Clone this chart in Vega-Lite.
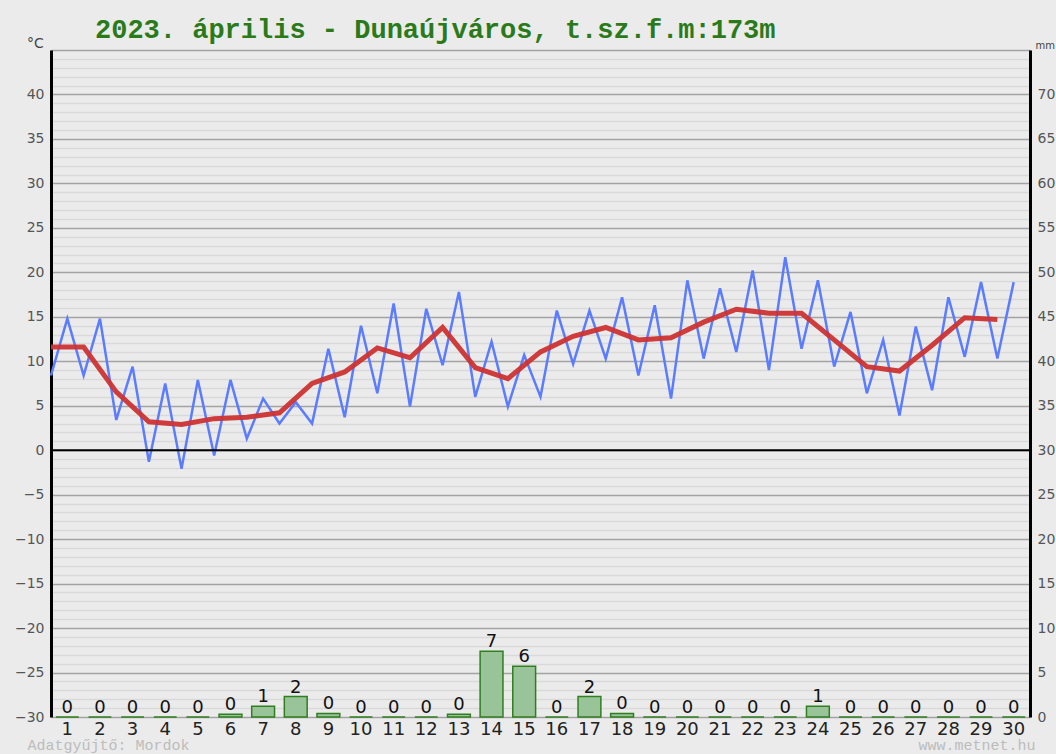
{
  "$schema": "https://vega.github.io/schema/vega-lite/v6.json",
  "width": 979,
  "height": 667,
  "autosize": {"type": "none"},
  "padding": {"left": 51, "top": 50, "right": 26, "bottom": 37},
  "background": "#ebebeb",
  "config": {"view": {"stroke": null}},
  "title": {
    "text": "2023. április - Dunaújváros, t.sz.f.m:173m",
    "anchor": "start", "frame": "group", "dx": 44, "dy": 41, "offset": 12, "baseline": "alphabetic",
    "font": "Liberation Mono", "fontSize": 27, "fontWeight": "bold", "color": "#2a7a1a"
  },
  "datasets": {
    "precip": [
      {"day": 1, "mm": 0}, {"day": 2, "mm": 0}, {"day": 3, "mm": 0}, {"day": 4, "mm": 0}, {"day": 5, "mm": 0},
      {"day": 6, "mm": 0.3}, {"day": 7, "mm": 1.2}, {"day": 8, "mm": 2.3}, {"day": 9, "mm": 0.4}, {"day": 10, "mm": 0},
      {"day": 11, "mm": 0}, {"day": 12, "mm": 0}, {"day": 13, "mm": 0.3}, {"day": 14, "mm": 7.4}, {"day": 15, "mm": 5.7},
      {"day": 16, "mm": 0}, {"day": 17, "mm": 2.3}, {"day": 18, "mm": 0.4}, {"day": 19, "mm": 0}, {"day": 20, "mm": 0},
      {"day": 21, "mm": 0}, {"day": 22, "mm": 0}, {"day": 23, "mm": 0}, {"day": 24, "mm": 1.2}, {"day": 25, "mm": 0},
      {"day": 26, "mm": 0}, {"day": 27, "mm": 0}, {"day": 28, "mm": 0}, {"day": 29, "mm": 0}, {"day": 30, "mm": 0}
    ],
    "minmax": [
      {"t": 1.0, "temp": 8.4}, {"t": 1.5, "temp": 14.8}, {"t": 2.0, "temp": 8.4}, {"t": 2.5, "temp": 14.8},
      {"t": 3.0, "temp": 3.4}, {"t": 3.5, "temp": 9.4}, {"t": 4.0, "temp": -1.3}, {"t": 4.5, "temp": 7.5},
      {"t": 5.0, "temp": -2.1}, {"t": 5.5, "temp": 7.9}, {"t": 6.0, "temp": -0.6}, {"t": 6.5, "temp": 7.9},
      {"t": 7.0, "temp": 1.3}, {"t": 7.5, "temp": 5.8}, {"t": 8.0, "temp": 3.0}, {"t": 8.5, "temp": 5.4},
      {"t": 9.0, "temp": 3.0}, {"t": 9.5, "temp": 11.4}, {"t": 10.0, "temp": 3.7}, {"t": 10.5, "temp": 14.0},
      {"t": 11.0, "temp": 6.4}, {"t": 11.5, "temp": 16.5}, {"t": 12.0, "temp": 4.9}, {"t": 12.5, "temp": 15.9},
      {"t": 13.0, "temp": 9.55}, {"t": 13.5, "temp": 17.8}, {"t": 14.0, "temp": 6.0}, {"t": 14.5, "temp": 12.2},
      {"t": 15.0, "temp": 4.9}, {"t": 15.5, "temp": 10.7}, {"t": 16.0, "temp": 6.0}, {"t": 16.5, "temp": 15.7},
      {"t": 17.0, "temp": 9.7}, {"t": 17.5, "temp": 15.7}, {"t": 18.0, "temp": 10.3}, {"t": 18.5, "temp": 17.2},
      {"t": 19.0, "temp": 8.4}, {"t": 19.5, "temp": 16.3}, {"t": 20.0, "temp": 5.8}, {"t": 20.5, "temp": 19.1},
      {"t": 21.0, "temp": 10.3}, {"t": 21.5, "temp": 18.2}, {"t": 22.0, "temp": 11.05}, {"t": 22.5, "temp": 20.2},
      {"t": 23.0, "temp": 9.0}, {"t": 23.5, "temp": 21.7}, {"t": 24.0, "temp": 11.4}, {"t": 24.5, "temp": 19.1},
      {"t": 25.0, "temp": 9.4}, {"t": 25.5, "temp": 15.55}, {"t": 26.0, "temp": 6.4}, {"t": 26.5, "temp": 12.4},
      {"t": 27.0, "temp": 3.9}, {"t": 27.5, "temp": 13.9}, {"t": 28.0, "temp": 6.75}, {"t": 28.5, "temp": 17.2},
      {"t": 29.0, "temp": 10.5}, {"t": 29.5, "temp": 18.9}, {"t": 30.0, "temp": 10.3}, {"t": 30.5, "temp": 18.9}
    ],
    "mean": [
      {"t": 1, "temp": 11.6}, {"t": 2, "temp": 11.6}, {"t": 3, "temp": 6.55}, {"t": 4, "temp": 3.2}, {"t": 5, "temp": 2.9},
      {"t": 6, "temp": 3.55}, {"t": 7, "temp": 3.7}, {"t": 8, "temp": 4.2}, {"t": 9, "temp": 7.5}, {"t": 10, "temp": 8.8},
      {"t": 11, "temp": 11.5}, {"t": 12, "temp": 10.4}, {"t": 13, "temp": 13.8}, {"t": 14, "temp": 9.3}, {"t": 15, "temp": 8.05},
      {"t": 16, "temp": 11.05}, {"t": 17, "temp": 12.8}, {"t": 18, "temp": 13.8}, {"t": 19, "temp": 12.4}, {"t": 20, "temp": 12.65},
      {"t": 21, "temp": 14.4}, {"t": 22, "temp": 15.85}, {"t": 23, "temp": 15.4}, {"t": 24, "temp": 15.4}, {"t": 25, "temp": 12.4},
      {"t": 26, "temp": 9.4}, {"t": 27, "temp": 8.9}, {"t": 28, "temp": 11.8}, {"t": 29, "temp": 14.9}, {"t": 30, "temp": 14.7}
    ]
  },
  "layer": [
    {
      "data": {"name": "precip"},
      "encoding": {
        "x": {
          "field": "day", "type": "ordinal",
          "scale": {"paddingInner": 0.3, "paddingOuter": 0.15},
          "axis": {
            "orient": "bottom", "labelAngle": 0, "labelFont": "DejaVu Sans", "labelFontSize": 18,
            "labelColor": "#222", "labelPadding": 3, "ticks": false, "domain": false, "grid": false,
            "title": "Adatgyűjtő: Mordok", "titleX": -24, "titleY": 27, "titleAlign": "left",
            "titleBaseline": "middle", "titleFont": "Liberation Mono", "titleFontSize": 15,
            "titleFontWeight": "normal", "titleColor": "#bcbcbc"
          }
        },
        "y": {
          "field": "mm", "type": "quantitative",
          "scale": {"domain": [0, 75], "nice": false, "zero": true},
          "axis": {
            "orient": "right", "values": [0, 5, 10, 15, 20, 25, 30, 35, 40, 45, 50, 55, 60, 65, 70],
            "tickCount": 100, "format": "d",
            "grid": false, "ticks": false, "domainColor": "#000", "domainWidth": 3,
            "labelFont": "DejaVu Sans", "labelFontSize": 14, "labelColor": "#555", "labelPadding": 7,
            "title": "mm", "titleAngle": 0, "titleX": 5, "titleY": -5, "titleAlign": "left",
            "titleBaseline": "middle", "titleFont": "DejaVu Sans", "titleFontSize": 10,
            "titleFontWeight": "normal", "titleColor": "#444"
          }
        }
      },
      "layer": [
        {"mark": {"type": "bar", "fill": "#99c499", "stroke": "#2f7f1f", "strokeWidth": 1.5}},
        {
          "mark": {"type": "text", "dy": -4, "baseline": "alphabetic", "font": "DejaVu Sans", "fontSize": 18, "color": "#111"},
          "encoding": {"text": {"field": "mm", "type": "quantitative", "format": ".0f"}}
        }
      ]
    },
    {
      "layer": [
        {
          "data": {"name": "minmax"},
          "mark": {"type": "line", "color": "#5c7cff", "strokeWidth": 2.5},
          "encoding": {
            "x": {
              "field": "t", "type": "quantitative",
              "scale": {"domain": [1, 31], "nice": false, "zero": false},
              "axis": {
                "orient": "bottom", "labels": false, "ticks": false, "domain": false, "grid": false,
                "title": "www.metnet.hu", "titleX": 984, "titleY": 27, "titleAlign": "right",
                "titleBaseline": "middle", "titleFont": "Liberation Mono", "titleFontSize": 15,
                "titleFontWeight": "normal", "titleColor": "#bcbcbc"
              }
            },
            "y": {
              "field": "temp", "type": "quantitative",
              "scale": {"domain": [-30, 45], "nice": false, "zero": false},
              "axis": {
                "orient": "left",
                "values": [-30, -29, -28, -27, -26, -25, -24, -23, -22, -21, -20, -19, -18, -17, -16, -15, -14, -13, -12, -11, -10, -9, -8, -7, -6, -5, -4, -3, -2, -1, 0, 1, 2, 3, 4, 5, 6, 7, 8, 9, 10, 11, 12, 13, 14, 15, 16, 17, 18, 19, 20, 21, 22, 23, 24, 25, 26, 27, 28, 29, 30, 31, 32, 33, 34, 35, 36, 37, 38, 39, 40, 41, 42, 43, 44, 45],
                "tickCount": 200, "format": "d",
                "labelExpr": "datum.value % 5 === 0 && datum.value < 45 ? datum.label : ''",
                "labelOverlap": false, "labelFlush": false,
                "grid": true,
                "gridColor": {"condition": {"test": "datum.value % 5 === 0", "value": "#a3a3a3"}, "value": "#d9d9d9"},
                "gridWidth": 1.5,
                "ticks": false, "domainColor": "#000", "domainWidth": 3,
                "labelFont": "DejaVu Sans", "labelFontSize": 14, "labelColor": "#555", "labelPadding": 7,
                "title": "°C", "titleAngle": 0, "titleX": -16, "titleY": -7, "titleAlign": "center",
                "titleBaseline": "middle", "titleFont": "DejaVu Sans", "titleFontSize": 14,
                "titleFontWeight": "normal", "titleColor": "#444"
              }
            }
          }
        },
        {
          "data": {"name": "mean"},
          "mark": {"type": "line", "color": "#cc3333", "strokeWidth": 5, "opacity": 0.95},
          "encoding": {
            "x": {"field": "t", "type": "quantitative"},
            "y": {"field": "temp", "type": "quantitative"}
          }
        },
        {
          "data": {"values": [{}]},
          "mark": {"type": "rule", "color": "#000", "strokeWidth": 2},
          "encoding": {"y": {"datum": 0, "type": "quantitative"}}
        }
      ]
    }
  ],
  "resolve": {
    "scale": {"x": "independent", "y": "independent"},
    "axis": {"x": "independent", "y": "independent"}
  }
}
